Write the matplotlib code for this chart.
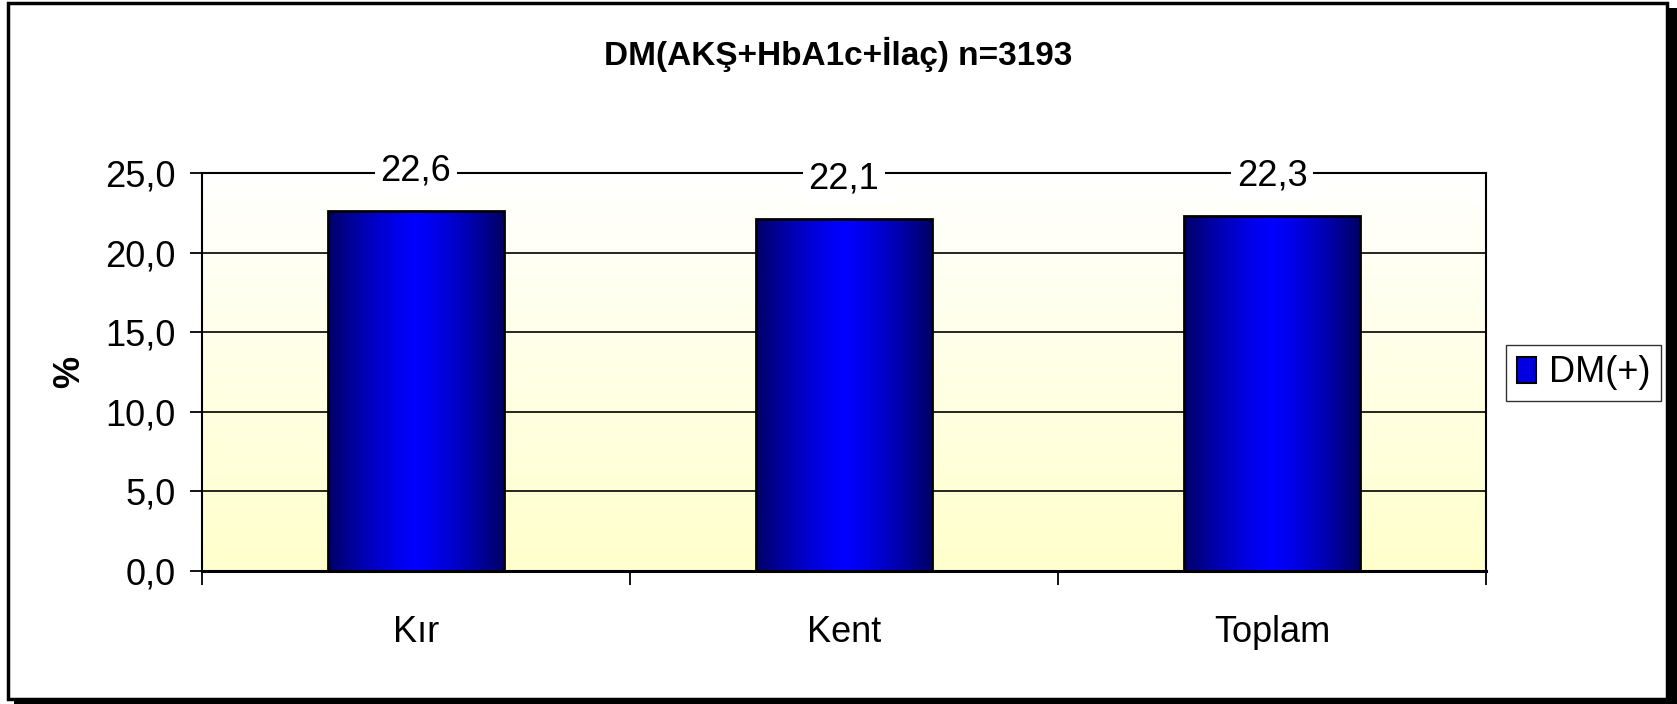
import numpy as np
import matplotlib
matplotlib.use('Agg')
import matplotlib.pyplot as plt
from matplotlib.patches import Rectangle, Patch
from matplotlib.ticker import FuncFormatter, FixedLocator

CATEGORIES = ['Kır', 'Kent', 'Toplam']
VALUES = [22.6, 22.1, 22.3]
SERIES_NAME = 'DM(+)'
TITLE = 'DM(AKŞ+HbA1c+İlaç) n=3193'
Y_TICKS = [0, 5, 10, 15, 20, 25]

plt.rcParams['font.family'] = ['Liberation Sans', 'DejaVu Sans']
FS = 26


def comma(v, pos=None):
    return f'{v:.1f}'.replace('.', ',')


fig = plt.figure(figsize=(16.77, 7.04), dpi=100)

# outer chart frame with the dark shadow on the right / bottom
fig.patches.append(Rectangle((14 / 1677, 0), 1 - 14 / 1677, 1 - 8 / 704,
                             transform=fig.transFigure, facecolor='black',
                             edgecolor='none', zorder=-2))
fig.patches.append(Rectangle((8 / 1677, 5 / 704), 1659 / 1677, 696 / 704,
                             transform=fig.transFigure, facecolor='white',
                             edgecolor='black', linewidth=2.5, zorder=-1))

ax = fig.add_axes([202 / 1677, 133 / 704, 1284 / 1677, 398 / 704])
ax.set_facecolor('none')
x = np.arange(len(CATEGORIES))
ax.set_xlim(-0.5, len(CATEGORIES) - 0.5)
ax.set_ylim(0, 25)

# plot area: white at top fading into light yellow
grad = np.linspace(0, 1, 256).reshape(-1, 1)
top = np.array([1.0, 1.0, 1.0])
bottom = np.array([1.0, 1.0, 0.8])
bg = top + (bottom - top) * grad[..., None]
ax.imshow(bg, extent=(-0.5, len(CATEGORIES) - 0.5, 0, 25), aspect='auto',
          origin='upper', zorder=0)

ax.set_axisbelow(True)
ax.yaxis.grid(True, color='black', linewidth=1.2, zorder=0.5)

bars = ax.bar(x, VALUES, width=0.41, facecolor='none', edgecolor='black',
              linewidth=2, zorder=3)

# horizontal shading inside each bar: dark navy at the sides, blue in the middle
h = np.abs(np.linspace(-1, 1, 256))
dark = np.array([0.0, 0.0, 0.40])
light = np.array([0.0, 0.0, 1.0])
shade = light + (dark - light) * h[:, None] ** 1.3
shade = shade.reshape(1, -1, 3)
for b in bars:
    im = ax.imshow(shade, extent=(b.get_x(), b.get_x() + b.get_width(), 0, b.get_height()),
                   aspect='auto', zorder=2)
    im.set_clip_path(b)
ax.set_xlim(-0.5, len(CATEGORIES) - 0.5)
ax.set_ylim(0, 25)

for xi, v in zip(x, VALUES):
    ax.annotate(comma(v), (xi, v), xytext=(0, 29), textcoords='offset points',
                ha='center', va='center', fontsize=FS, zorder=5,
                bbox=dict(boxstyle='square,pad=0.15', facecolor='white', edgecolor='none'))

for s in ax.spines.values():
    s.set_color('black')
    s.set_linewidth(1.5)
ax.spines['bottom'].set_linewidth(2.2)

ax.set_yticks(Y_TICKS)
ax.yaxis.set_major_formatter(FuncFormatter(comma))
ax.tick_params(axis='y', direction='out', length=9, width=1.3, pad=10, labelsize=FS)

ax.set_xticks(x)
ax.set_xticklabels(CATEGORIES)
ax.xaxis.set_minor_locator(FixedLocator(np.arange(len(CATEGORIES) + 1) - 0.5))
ax.tick_params(axis='x', which='major', length=0, pad=32, labelsize=FS)
ax.tick_params(axis='x', which='minor', direction='out', length=10, width=1.3)

fig.text(0.5, 0.922, TITLE, ha='center', va='center', fontsize=24, fontweight='bold')
fig.text(70 / 1677, 0.4716, '%', rotation=90, ha='center', va='center',
         fontsize=26, fontweight='bold')

handle = Patch(facecolor='#0000e0', edgecolor='black', linewidth=1.5)
leg = fig.legend([handle], [SERIES_NAME], loc='center',
                 bbox_to_anchor=(1583.5 / 1677, 0.4702), fontsize=FS,
                 frameon=True, fancybox=False, borderpad=0.3, handlelength=0.55,
                 handleheight=0.75, handletextpad=0.35, borderaxespad=0)
leg.get_frame().set_edgecolor('black')
leg.get_frame().set_linewidth(1)

fig.savefig('out.png', dpi=100)
